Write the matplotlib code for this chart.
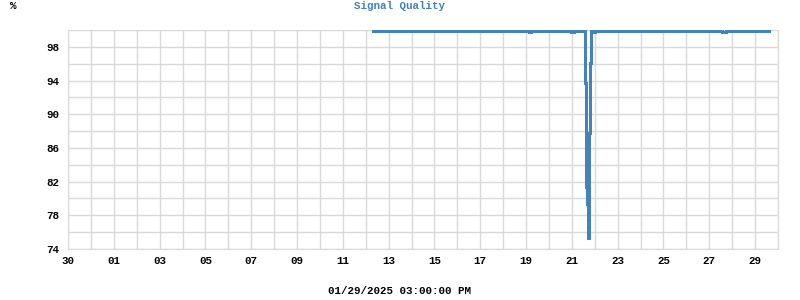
#Signal quality over the month, drawn as a step line
import matplotlib
matplotlib.use('Agg')
import matplotlib.pyplot as plt
import matplotlib.dates as mdates
import pandas as pd

#readings (time, percent)
times = ["2025-01-12 08:00", "2025-01-19 03:00", "2025-01-19 05:00",
         "2025-01-20 23:00", "2025-01-21 02:00",
         "2025-01-21 14:00", "2025-01-21 15:00", "2025-01-21 16:00", "2025-01-21 17:00",
         "2025-01-21 18:00", "2025-01-21 19:00", "2025-01-21 20:00",
         "2025-01-21 22:00", "2025-01-22 00:00",
         "2025-01-27 13:00", "2025-01-27 17:00",
         "2025-01-29 15:00"]
quality = [99.9, 99.8, 99.9,
           99.8, 99.9,
           93.7, 81.4, 79.4, 75.3,
           87.8, 96.1, 99.9,
           99.8, 99.9,
           99.75, 99.9,
           99.9]

x_start = "2024-12-30"
x_end = "2025-01-30"
x_ticks = ["2024-12-30"] + ["2025-01-%02d" % d for d in range(1, 30, 2)]
y_ticks = [74, 78, 82, 86, 90, 94, 98]
x_label = "01/29/2025 03:00:00 PM"
title = "Signal Quality"

line_color = '#4682b4'
grid_color = '#d9d9d9'
font = dict(family='Liberation Mono', weight='bold', size=7.8)

t = pd.to_datetime(times)

fig = plt.figure(figsize=(8, 3), dpi=100)
ax = fig.add_axes([0.085, 0.17, 0.8875, 0.73])

ax.plot(t, quality, drawstyle='steps-post', color=line_color, lw=2.2, solid_joinstyle='miter')

ax.set_xlim(pd.Timestamp(x_start), pd.Timestamp(x_end))
ax.set_ylim(74, 100)

ax.set_xticks(pd.to_datetime(x_ticks))
ax.xaxis.set_minor_locator(mdates.DayLocator())
ax.xaxis.set_major_formatter(mdates.DateFormatter('%d'))
ax.set_yticks(y_ticks)
ax.set_yticks(range(74, 101, 2), minor=True)

ax.grid(True, which='both', color=grid_color, lw=1)
ax.set_axisbelow(True)
for s in ax.spines.values():
    s.set_color(grid_color)
ax.spines['top'].set_visible(False)

ax.tick_params(which='both', length=0)
ax.tick_params(axis='x', pad=5)
ax.tick_params(axis='y', pad=6)
for lab in ax.get_xticklabels() + ax.get_yticklabels():
    lab.set_fontfamily(font['family'])
    lab.set_fontweight(font['weight'])
    lab.set_fontsize(font['size'])

fig.text(0.5, 0.997, title, ha='center', va='top', color=line_color, **font)
fig.text(0.012, 0.997, "%", ha='left', va='top', color='black', **font)
fig.text(0.5, 0.012, x_label, ha='center', va='bottom', color='black', **font)

fig.savefig('out.png', dpi=100)
